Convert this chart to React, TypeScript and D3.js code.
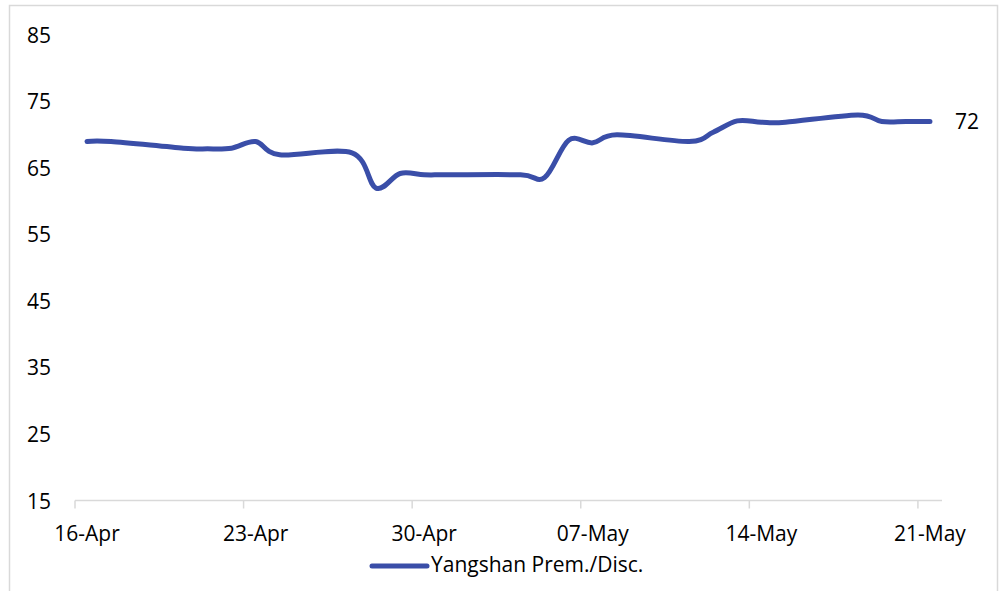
import React from "react";
import * as d3 from "d3";

const dates: string[] = [
  "2020-04-16", "2020-04-17", "2020-04-20", "2020-04-21", "2020-04-22", "2020-04-23", "2020-04-24",
  "2020-04-27", "2020-04-28", "2020-04-29", "2020-04-30", "2020-05-01",
  "2020-05-04", "2020-05-05", "2020-05-06", "2020-05-07", "2020-05-08",
  "2020-05-11", "2020-05-12", "2020-05-13", "2020-05-14", "2020-05-15",
  "2020-05-18", "2020-05-19", "2020-05-20", "2020-05-21",
];
const values: number[] = [
  69.0, 69.0, 68.0, 67.9, 68.0, 69.0, 67.0,
  67.3, 62.0, 64.2, 64.0, 64.0,
  64.0, 63.6, 69.2, 68.8, 70.0,
  69.0, 70.4, 72.1, 71.9, 71.9,
  73.0, 72.0, 72.0, 72.0,
];
const tickDates: string[] = ["2020-04-16", "2020-04-23", "2020-04-30", "2020-05-07", "2020-05-14", "2020-05-21"];
const yTicks: number[] = [15, 25, 35, 45, 55, 65, 75, 85];
const seriesName = "Yangshan Prem./Disc.";

const W = 1002;
const H = 591;
const FONT = "'Open Sans', 'Noto Sans', sans-serif";
const LINE_COLOR = "#3A4EA8";
const GRID = "#d9d9d9";
const HALF_DAY = 12 * 3600 * 1000;
const DAY = 24 * 3600 * 1000;

export default function App() {
  const parse = (s: string) => new Date(s + "T00:00:00Z");
  const start = parse(dates[0]).getTime() - HALF_DAY;
  const end = parse(dates[dates.length - 1]).getTime() + HALF_DAY;
  const x = d3.scaleUtc().domain([new Date(start), new Date(end)]).range([75, 942]);
  const y = d3.scaleLinear().domain([15, 85]).range([501, 35]);
  const fmt = d3.utcFormat("%d-%b");
  const label16 = (d: Date) => {
    const s = fmt(d);
    return s.startsWith("0") && d.getUTCMonth() === 3 ? s.slice(1) : s;
  };
  const fmtTick = (d: Date) => {
    // Excel style: "16-Apr", "07-May"
    return fmt(d);
  };
  const pts = dates.map((d, i) => [x(parse(d)), y(values[i])] as [number, number]);
  const line = d3.line<[number, number]>().x((p) => p[0]).y((p) => p[1]).curve(d3.curveCardinal.tension(0));
  const path = line(pts) || "";
  const last = pts[pts.length - 1];
  const axisY = 500.5;

  return (
    <svg width={W} height={H} style={{ position: "absolute", left: 0, top: 0, background: "#fff" }} fontFamily={FONT}>
      <rect x={9.5} y={5.5} width={988} height={600} fill="#fff" stroke={GRID} strokeWidth={1.5} />
      {yTicks.map((t) => (
        <text key={t} x={51} y={y(t)} dy="0.36em" textAnchor="end" fontSize={21} fill="#000">
          {t}
        </text>
      ))}
      <line x1={x.range()[0]} x2={x.range()[1]} y1={axisY} y2={axisY} stroke={GRID} strokeWidth={1.5} />
      {tickDates.map((d) => {
        const tx = x(new Date(parse(d).getTime() - HALF_DAY));
        return <line key={"t" + d} x1={tx} x2={tx} y1={axisY} y2={axisY + 8} stroke={GRID} strokeWidth={1.5} />;
      })}
      {tickDates.map((d) => (
        <text key={"l" + d} x={x(parse(d))} y={541} textAnchor="middle" fontSize={21} fill="#000">
          {fmtTick(parse(d))}
        </text>
      ))}
      <path d={path} fill="none" stroke={LINE_COLOR} strokeWidth={5} strokeLinecap="round" strokeLinejoin="round" />
      <text x={last[0] + 25} y={last[1]} dy="0.36em" fontSize={21} fill="#000">
        {Math.round(values[values.length - 1])}
      </text>
      <line x1={372} x2={427} y1={566} y2={566} stroke={LINE_COLOR} strokeWidth={5} strokeLinecap="round" />
      <text x={431} y={572} fontSize={21} fill="#000">
        {seriesName}
      </text>
    </svg>
  );
}
